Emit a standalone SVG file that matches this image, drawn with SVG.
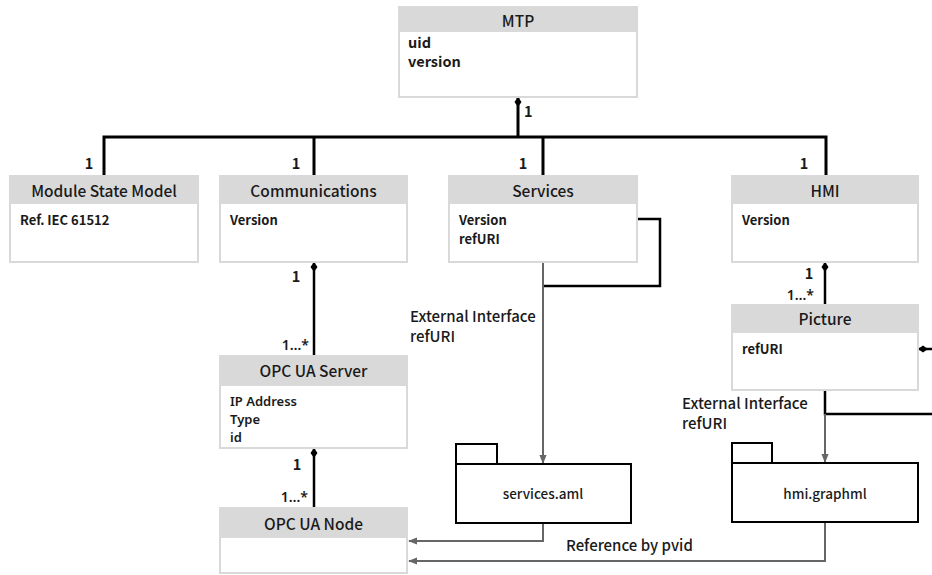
<svg xmlns="http://www.w3.org/2000/svg" width="932" height="575" viewBox="0 0 932 575">
  <style>
    text { font-family: "Noto Sans CJK SC", "Noto Sans", sans-serif; fill: #1a1a1a; }
    .box { fill: #ffffff; stroke: #d9d9d9; stroke-width: 2; }
    .hdr { fill: #d9d9d9; }
    .title { font-size: 15.5px; font-weight: 500; text-anchor: middle; }
    .attr { font-size: 13px; font-weight: 600; }
    .attr-list { font-family: "Noto Sans", "Noto Sans CJK SC", sans-serif; font-size: 13px; font-weight: 600; }
    .attr-lg { font-size: 14.5px; font-weight: 600; }
    .mult { font-size: 14.5px; font-weight: 600; }
    .range { font-family: "Noto Sans", "Noto Sans CJK SC", sans-serif; font-size: 14px; font-weight: 600; text-anchor: end; }
    .lbl { font-size: 15px; font-weight: 500; }
    .tree { fill: none; stroke: #000000; stroke-width: 3; }
    .link { fill: none; stroke: #000000; stroke-width: 2.5; }
    .ref { fill: none; stroke: #666666; stroke-width: 2; }
    .pkg { fill: #ffffff; stroke: #000000; stroke-width: 2; }
    .pkg-name { font-size: 13.5px; font-weight: 500; text-anchor: middle; }
  </style>
  <defs>
    <marker id="diamond" viewBox="0 0 10 10" refX="1" refY="5" markerWidth="10" markerHeight="10" markerUnits="userSpaceOnUse" orient="auto">
      <path d="M0,5 L5,1.5 L10,5 L5,8.5 Z" fill="#000000"/>
    </marker>
    <marker id="arrow" viewBox="0 0 10 10" refX="9" refY="5" markerWidth="9" markerHeight="9" markerUnits="userSpaceOnUse" orient="auto">
      <path d="M0,1 L10,5 L0,9 Z" fill="#666666"/>
    </marker>
  </defs>

  <!-- connectors -->
  <g id="connectors">
    <path class="tree" d="M518,98 V137" marker-start="url(#diamond)"/>
    <path class="tree" d="M104,176 V137 H826 V176"/>
    <path class="tree" d="M314,137 V176"/>
    <path class="tree" d="M543,137 V176"/>

    <path class="link" d="M314,263 V356" marker-start="url(#diamond)"/>
    <path class="link" d="M314,449 V508" marker-start="url(#diamond)"/>
    <path class="link" d="M825,263 V305" marker-start="url(#diamond)"/>

    <path class="link" d="M637,219 H660 V286 H543"/>
    <path class="ref" d="M543,263 V463" marker-end="url(#arrow)"/>

    <path class="link" d="M919,349 H932" marker-start="url(#diamond)"/>
    <path class="link" d="M825,391 V414 H932"/>
    <path class="ref" d="M825,414 V462" marker-end="url(#arrow)"/>

    <path class="ref" d="M543,523 V541 H409" marker-end="url(#arrow)"/>
    <path class="ref" d="M825,522 V561 H409" marker-end="url(#arrow)"/>

    <text class="mult" x="524" y="117">1</text>
    <text class="mult" x="89" y="169" text-anchor="middle">1</text>
    <text class="mult" x="296" y="169" text-anchor="middle">1</text>
    <text class="mult" x="523" y="169" text-anchor="middle">1</text>
    <text class="mult" x="804" y="169" text-anchor="middle">1</text>

    <text class="mult" x="296" y="282" text-anchor="middle">1</text>
    <text class="range" x="309" y="350">1…*</text>
    <text class="mult" x="297" y="470" text-anchor="middle">1</text>
    <text class="range" x="308" y="502">1…*</text>
    <text class="mult" x="809" y="279" text-anchor="middle">1</text>
    <text class="range" x="814" y="300">1…*</text>

    <text class="lbl" x="410" y="322">External Interface</text>
    <text class="lbl" x="410" y="342">refURI</text>
    <text class="lbl" x="682" y="409">External Interface</text>
    <text class="lbl" x="682" y="429">refURI</text>
    <text class="lbl" x="566" y="551">Reference by pvid</text>
  </g>

  <g id="mtp">
    <rect class="box" x="399" y="7" width="238" height="90"/>
    <rect class="hdr" x="399" y="7" width="238" height="25"/>
    <text class="title" x="518" y="27">MTP</text>
    <text class="attr-lg" x="408" y="48">uid</text>
    <text class="attr-lg" x="408" y="67">version</text>
  </g>

  <g id="module-state-model">
    <rect class="box" x="10" y="176" width="188" height="86"/>
    <rect class="hdr" x="10" y="176" width="188" height="28"/>
    <text class="title" x="104" y="197">Module State Model</text>
    <text class="attr" x="20" y="225">Ref. IEC 61512</text>
  </g>

  <g id="communications">
    <rect class="box" x="220" y="176" width="187" height="86"/>
    <rect class="hdr" x="220" y="176" width="187" height="28"/>
    <text class="title" x="313.5" y="197">Communications</text>
    <text class="attr" x="230" y="225">Version</text>
  </g>

  <g id="services">
    <rect class="box" x="449" y="176" width="188" height="86"/>
    <rect class="hdr" x="449" y="176" width="188" height="28"/>
    <text class="title" x="543" y="197">Services</text>
    <text class="attr" x="459" y="225">Version</text>
    <text class="attr" x="459" y="244">refURI</text>
  </g>

  <g id="hmi">
    <rect class="box" x="732" y="176" width="186" height="86"/>
    <rect class="hdr" x="732" y="176" width="186" height="28"/>
    <text class="title" x="825" y="197">HMI</text>
    <text class="attr" x="742" y="225">Version</text>
  </g>

  <g id="opc-ua-server">
    <rect class="box" x="220" y="356" width="187" height="92"/>
    <rect class="hdr" x="220" y="356" width="187" height="30"/>
    <text class="title" x="313.5" y="377">OPC UA Server</text>
    <text class="attr-list" x="230" y="406">IP Address</text>
    <text class="attr-list" x="230" y="424">Type</text>
    <text class="attr-list" x="230" y="442">id</text>
  </g>

  <g id="opc-ua-node">
    <rect class="box" x="220" y="508" width="187" height="65"/>
    <rect class="hdr" x="220" y="508" width="187" height="30"/>
    <text class="title" x="313.5" y="530">OPC UA Node</text>
  </g>

  <g id="picture">
    <rect class="box" x="732" y="305" width="186" height="85"/>
    <rect class="hdr" x="732" y="305" width="186" height="28"/>
    <text class="title" x="825" y="325">Picture</text>
    <text class="attr" x="742" y="354">refURI</text>
  </g>

  <g id="services-aml">
    <rect class="pkg" x="456" y="444" width="41" height="20"/>
    <rect class="pkg" x="456" y="464" width="175" height="59"/>
    <text class="pkg-name" x="543" y="499">services.aml</text>
  </g>

  <g id="hmi-graphml">
    <rect class="pkg" x="732" y="443" width="40" height="20"/>
    <rect class="pkg" x="732" y="463" width="186" height="59"/>
    <text class="pkg-name" x="825" y="499">hmi.graphml</text>
  </g>
</svg>
